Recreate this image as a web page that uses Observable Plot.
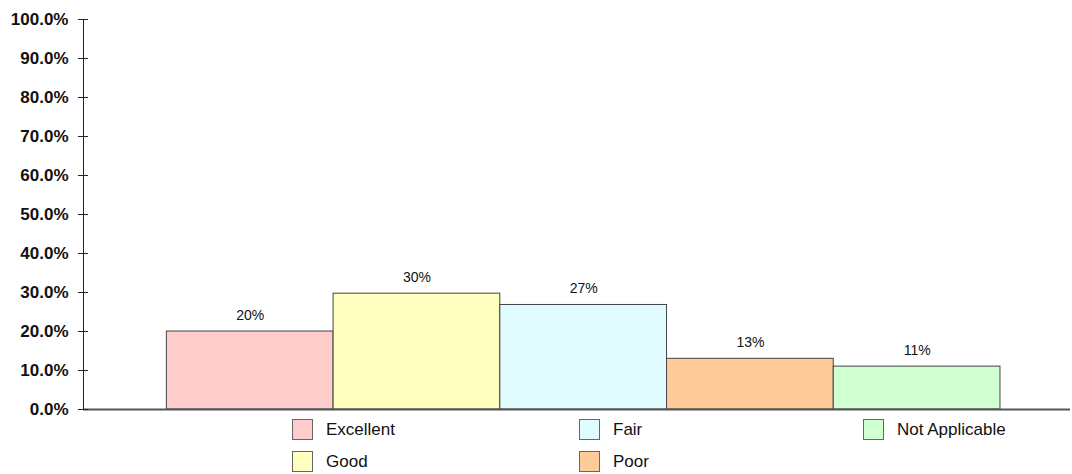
<!DOCTYPE html>
<html>
<head>
<meta charset="utf-8">
<script src="https://cdn.jsdelivr.net/npm/d3@7"></script>
<script src="https://cdn.jsdelivr.net/npm/@observablehq/plot@0.6"></script>
<style>
  body { margin: 0; background: #fff; font-family: "Liberation Sans", Arial, sans-serif; }
  #chart svg { display: block; }
  #legend { position: relative; width: 1072px; height: 55px; }
  .item { position: absolute; display: flex; align-items: center; font-size: 17px; color: #111; height: 21px; }
  .sw { width: 21px; height: 21px; border: 1px solid #666; box-sizing: border-box; margin-right: 13px; }
  .lbl { white-space: nowrap; }
</style>
</head>
<body>
<div id="chart"></div>
<div id="legend"></div>
<script>
const categories = ["Excellent", "Good", "Fair", "Poor", "Not Applicable"];
const values = [0.20, 0.297, 0.268, 0.13, 0.11];
const labels = ["20%", "30%", "27%", "13%", "11%"];
const colors = ["#FFCCCC", "#FFFFC0", "#E0FCFF", "#FFCC99", "#D0FFD0"];
const yTicks = [0, 0.1, 0.2, 0.3, 0.4, 0.5, 0.6, 0.7, 0.8, 0.9, 1.0];

const data = categories.map((c, i) => ({ cat: c, i, value: values[i], label: labels[i], color: colors[i] }));

const chart = Plot.plot({
  width: 1072,
  height: 419,
  marginTop: 19,
  marginBottom: 10,
  marginLeft: 83,
  marginRight: 2,
  x: { domain: [-0.5, 5.42], axis: null },
  y: { domain: [0, 1], label: null },
  style: { fontFamily: "Liberation Sans, Arial, sans-serif", background: "#fff" },
  marks: [
    Plot.rectY(data, { x1: d => d.i, x2: d => d.i + 1, y: "value", fill: "color", stroke: "#444", strokeWidth: 1 }),
    Plot.text(data, { x: d => d.i + 0.5, y: "value", text: "label", dy: -16, fontSize: 14, fill: "#111" }),
    Plot.ruleY([0], { stroke: "#555", strokeWidth: 2 }),
    Plot.ruleX([-0.5], { stroke: "#222", strokeWidth: 1 }),
    Plot.axisY({ ticks: yTicks, tickSize: -5, tickFormat: () => "", stroke: "#222", label: null }),
    Plot.axisY({ ticks: yTicks, tickSize: 5, tickPadding: 10, tickFormat: d3.format(".1%"), fontSize: 17, fontWeight: "bold", fill: "#111", stroke: "#222", label: null })
  ]
});
document.getElementById("chart").appendChild(chart);

const legend = document.getElementById("legend");
const colX = [292, 579, 863];
const rowY = [0, 32];
categories.forEach((c, i) => {
  const col = Math.floor(i / 2), row = i % 2;
  const item = document.createElement("div");
  item.className = "item";
  item.style.left = colX[col] + "px";
  item.style.top = rowY[row] + "px";
  const sw = document.createElement("span");
  sw.className = "sw";
  sw.style.background = colors[i];
  const lbl = document.createElement("span");
  lbl.className = "lbl";
  lbl.textContent = c;
  item.appendChild(sw);
  item.appendChild(lbl);
  legend.appendChild(item);
});
</script>
</body>
</html>
